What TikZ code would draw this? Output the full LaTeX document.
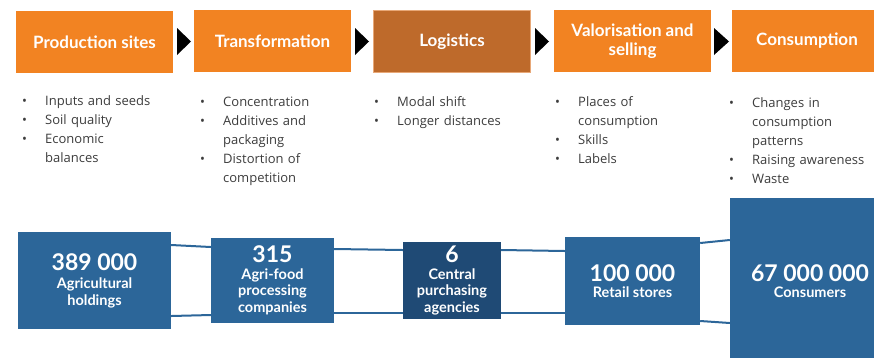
\documentclass[tikz,border=0pt]{standalone}
\usepackage{fontspec}
\setmainfont{Open Sans}
\newfontfamily\headfont{Lato}
\definecolor{stageorange}{HTML}{F28322}
\definecolor{stagebrown}{HTML}{BE6A2B}
\definecolor{stageedge}{HTML}{E8A878}
\definecolor{hubblue}{HTML}{2C6699}
\definecolor{hubdark}{HTML}{1F4A75}
\definecolor{notegray}{HTML}{3C3C3C}
\newcommand{\bitem}[1]{\hangindent=23pt\hangafter=1\noindent\makebox[23pt][l]{\textbullet}#1\par}
\newcommand{\bignum}[1]{{\fontsize{23}{26}\selectfont #1}}

\begin{document}
\begin{tikzpicture}[x=1pt, y=-1pt,
                        stage/.style={rectangle, fill=stageorange, text=white, minimum width=157pt, minimum height=62pt,
                                      inner sep=0pt, align=center, font=\headfont\bfseries\fontsize{17}{19}\selectfont},
                        hub/.style={rectangle, fill=hubblue, text=white, inner sep=0pt, align=center,
                                    font=\headfont\bfseries\fontsize{14.5}{16.5}\selectfont},
                        notes/.style={anchor=north west, inner sep=0pt, text width=150pt, text=notegray,
                                      font=\fontsize{13}{19}\selectfont\raggedright},
                        link/.style={draw=hubblue, line width=2pt}]

                        \useasboundingbox (0,0) rectangle (874,357);

                        % Stages of the chain
                        \node[stage] (prod) at (94.5,42) {Production sites};
                        \node[stage] (trans) at (272.5,41) {Transformation};
                        \node[stage, fill=stagebrown, draw=stageedge, line width=1pt] (logi) at (452,41.5) {Logistics};
                        \node[stage] (valo) at (632.5,41) {Valorisation and\\selling};
                        \node[stage, minimum width=150pt, text width=142pt] (cons) at (807,41) {Consumption};

                        % Black arrowheads between stages
                        \fill (177,28) -- (191,41.5) -- (177,55) -- cycle;
                        \fill (355,28) -- (369,41.5) -- (355,55) -- cycle;
                        \fill (535,28) -- (549,41.5) -- (535,55) -- cycle;
                        \fill (714,28) -- (729,41.5) -- (714,55) -- cycle;

                        % Issues under each stage
                        \node[notes] (n1) at (22,95) {\bitem{Inputs and seeds}\bitem{Soil quality}\bitem{Economic\newline balances}};
                        \node[notes] (n2) at (200,97) {\bitem{Concentration}\bitem{Additives and\newline packaging}\bitem{Distortion of\newline competition}};
                        \node[notes] (n3) at (374,96) {\bitem{Modal shift}\bitem{Longer distances}};
                        \node[notes] (n4) at (555,96) {\bitem{Places of\newline consumption}\bitem{Skills}\bitem{Labels}};
                        \node[notes] (n5) at (729,97) {\bitem{Changes in\newline consumption\newline patterns}\bitem{Raising awareness}\bitem{Waste}};

                        % Actors and their numbers
                        \node[hub, minimum width=153pt, minimum height=97pt] (hold) at (94.5,280.5) {\bignum{389 000}\\[2pt]Agricultural\\holdings};
                        \node[hub, minimum width=123pt, minimum height=85pt] (proc) at (272.5,280.5) {\bignum{315}\\Agri-food\\processing\\companies};
                        \node[hub, fill=hubdark, minimum width=98pt, minimum height=77pt] (purch) at (452,280.5) {\bignum{6}\\Central\\purchasing\\agencies};
                        \node[hub, minimum width=135pt, minimum height=88pt] (retail) at (632.5,281) {\bignum{100 000}\\Retail stores};
                        \node[hub, minimum width=160pt, minimum height=166pt] (consu) at (810,281) {\bignum{67 000 000}\\Consumers};

                        % Links between actors
                        \path[link] ([yshift=35.5pt]hold.east) -- ([yshift=33.5pt]proc.west);
                        \path[link] ([yshift=-35.5pt]hold.east) -- ([yshift=-34.5pt]proc.west);
                        \path[link] ([yshift=31.5pt]proc.east) -- ([yshift=30.5pt]purch.west);
                        \path[link] ([yshift=-32.5pt]proc.east) -- ([yshift=-32.5pt]purch.west);
                        \path[link] ([yshift=30.5pt]purch.east) -- ([yshift=30pt]retail.west);
                        \path[link] ([yshift=-32.5pt]purch.east) -- ([yshift=-32pt]retail.west);
                        \path[link] ([yshift=38pt]retail.east) -- ([yshift=41pt]consu.west);
                        \path[link] ([yshift=-40pt]retail.east) -- ([yshift=-42pt]consu.west);
                    \end{tikzpicture}
\end{document}
